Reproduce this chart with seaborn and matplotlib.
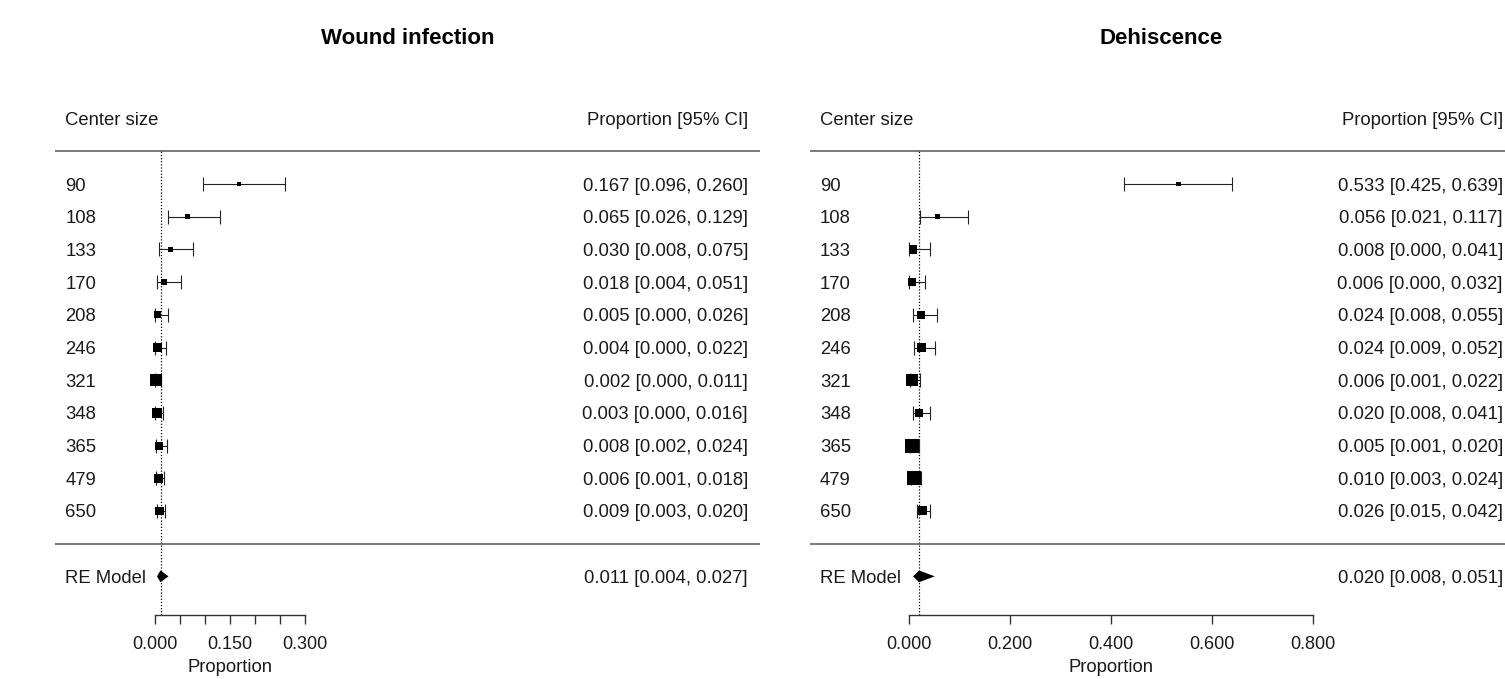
import numpy as np
import pandas as pd
import matplotlib
matplotlib.use("Agg")
import matplotlib.pyplot as plt
import seaborn as sns

# --- data ---
centers = ['90', '108', '133', '170', '208', '246', '321', '348', '365', '479', '650']

wi_est = [0.167, 0.065, 0.030, 0.018, 0.005, 0.004, 0.002, 0.003, 0.008, 0.006, 0.009]
wi_lo = [0.096, 0.026, 0.008, 0.004, 0.000, 0.000, 0.000, 0.000, 0.002, 0.001, 0.003]
wi_hi = [0.260, 0.129, 0.075, 0.051, 0.026, 0.022, 0.011, 0.016, 0.024, 0.018, 0.020]
wi_weight = [4, 5, 5, 6, 7, 9, 12, 10, 8, 9, 8.5]      # square side (px), ~ study weight
wi_re = (0.011, 0.004, 0.027)

de_est = [0.533, 0.056, 0.008, 0.006, 0.024, 0.024, 0.006, 0.020, 0.005, 0.010, 0.026]
de_lo = [0.425, 0.021, 0.000, 0.000, 0.008, 0.009, 0.001, 0.008, 0.001, 0.003, 0.015]
de_hi = [0.639, 0.117, 0.041, 0.032, 0.055, 0.052, 0.022, 0.041, 0.020, 0.024, 0.042]
de_weight = [4.7, 4.5, 8.5, 8.5, 7.5, 9, 12, 8, 14, 14, 9]
de_re = (0.020, 0.008, 0.051)

wi_ticks = [0.0, 0.05, 0.10, 0.15, 0.20, 0.25, 0.30]
wi_ticklabels = ['0.000', '', '', '0.150', '', '', '0.300']
de_ticks = [0.0, 0.2, 0.4, 0.6, 0.8]
de_ticklabels = ['0.000', '0.200', '0.400', '0.600', '0.800']

sns.set_style('white')
plt.rcParams['font.family'] = ['Liberation Sans', 'DejaVu Sans']
plt.rcParams['font.size'] = 13.3
TXT = '#1a1a1a'
DY = -0.06   # nudge text baseline so digits sit level with the marks

W, H = 1505, 679
fig = plt.figure(figsize=(W / 100, H / 100), dpi=100)


def draw_panel(rect, xlim, title, title_x, text_right, est, lo, hi, weight, re,
               ticks, ticklabels):
    ax = fig.add_axes(rect)
    k = len(centers)
    df = pd.DataFrame({'center': centers, 'est': est, 'lo': lo, 'hi': hi,
                       'w': weight, 'row': np.arange(k, 0, -1)})
    df['ci'] = [f"{e:.3f} [{l:.3f}, {h:.3f}]" for e, l, h in zip(est, lo, hi)]

    # confidence intervals
    ax.errorbar(df['est'], df['row'],
                xerr=[df['est'] - df['lo'], df['hi'] - df['est']],
                fmt='none', ecolor='#222222', elinewidth=0.8,
                capsize=5, capthick=0.8, zorder=2)
    # weighted squares
    sizes = {v: (v * 0.72) ** 2 for v in df['w']}
    sns.scatterplot(data=df, x='est', y='row', size='w', sizes=sizes,
                    marker='s', color='black', linewidth=0, legend=False,
                    ax=ax, zorder=3)

    # summary diamond
    est_re, lo_re, hi_re = re
    h = 0.18
    ax.fill([lo_re, est_re, hi_re, est_re], [-1, -1 + h, -1, -1 - h],
            color='black', lw=0, zorder=3)
    ax.vlines(est_re, -2.18, k + 1, colors='black', linestyles=(0, (1, 1.5)),
              lw=0.9, zorder=1)

    ax.axhline(k + 1, color='#555555', lw=1.1)
    ax.axhline(0, color='#555555', lw=1.1)

    trans = ax.get_yaxis_transform()
    xl, xr = 0.0145, text_right
    for _, r in df.iterrows():
        ax.text(xl, r['row'] + DY, r['center'], transform=trans, ha='left', va='center', color=TXT)
        ax.text(xr, r['row'] + DY, r['ci'], transform=trans, ha='right', va='center', color=TXT)
    ax.text(xl, -1 + DY, 'RE Model', transform=trans, ha='left', va='center', color=TXT)
    ax.text(xr, -1 + DY, f"{est_re:.3f} [{lo_re:.3f}, {hi_re:.3f}]", transform=trans,
            ha='right', va='center', color=TXT)
    ax.text(xl, k + 2 + DY, 'Center size', transform=trans, ha='left', va='center', color=TXT)
    ax.text(xr, k + 2 + DY, 'Proportion [95% CI]', transform=trans, ha='right', va='center', color=TXT)
    ax.text(title_x, 15.45, title, transform=trans, ha='center', va='center',
            fontsize=16, fontweight='bold', color='black')

    # x axis drawn as a floating spine below the summary row
    ax.set_xlim(*xlim)
    ax.set_ylim(-4.14, 16.63)
    for s in ['top', 'left', 'right']:
        ax.spines[s].set_visible(False)
    ax.spines['bottom'].set_position(('data', -2.18))
    ax.spines['bottom'].set_bounds(ticks[0], ticks[-1])
    ax.spines['bottom'].set_color('#333333')
    ax.spines['bottom'].set_linewidth(1.0)
    ax.set_xticks(ticks)
    ax.set_xticklabels(ticklabels, color=TXT, fontsize=13)
    ax.tick_params(axis='x', direction='out', length=6.5, width=1.0,
                   color='#333333', pad=8.5, bottom=True)
    ax.set_yticks([])
    ax.set_xlabel('')
    ax.set_ylabel('')
    ax.text((ticks[0] + ticks[-1]) / 2, -3.8, 'Proportion', ha='center',
            va='center', color=TXT)
    ax.patch.set_alpha(0)
    return ax


draw_panel([55 / W, 0, 705 / W, 1], (-0.2, 1.21), 'Wound infection', 0.5, 0.983,
           wi_est, wi_lo, wi_hi, wi_weight, wi_re, wi_ticks, wi_ticklabels)
draw_panel([810 / W, 0, 695 / W, 1], (-0.196, 1.180), 'Dehiscence', 0.505, 0.997,
           de_est, de_lo, de_hi, de_weight, de_re, de_ticks, de_ticklabels)

fig.savefig('out.png', dpi=100, facecolor='white')
